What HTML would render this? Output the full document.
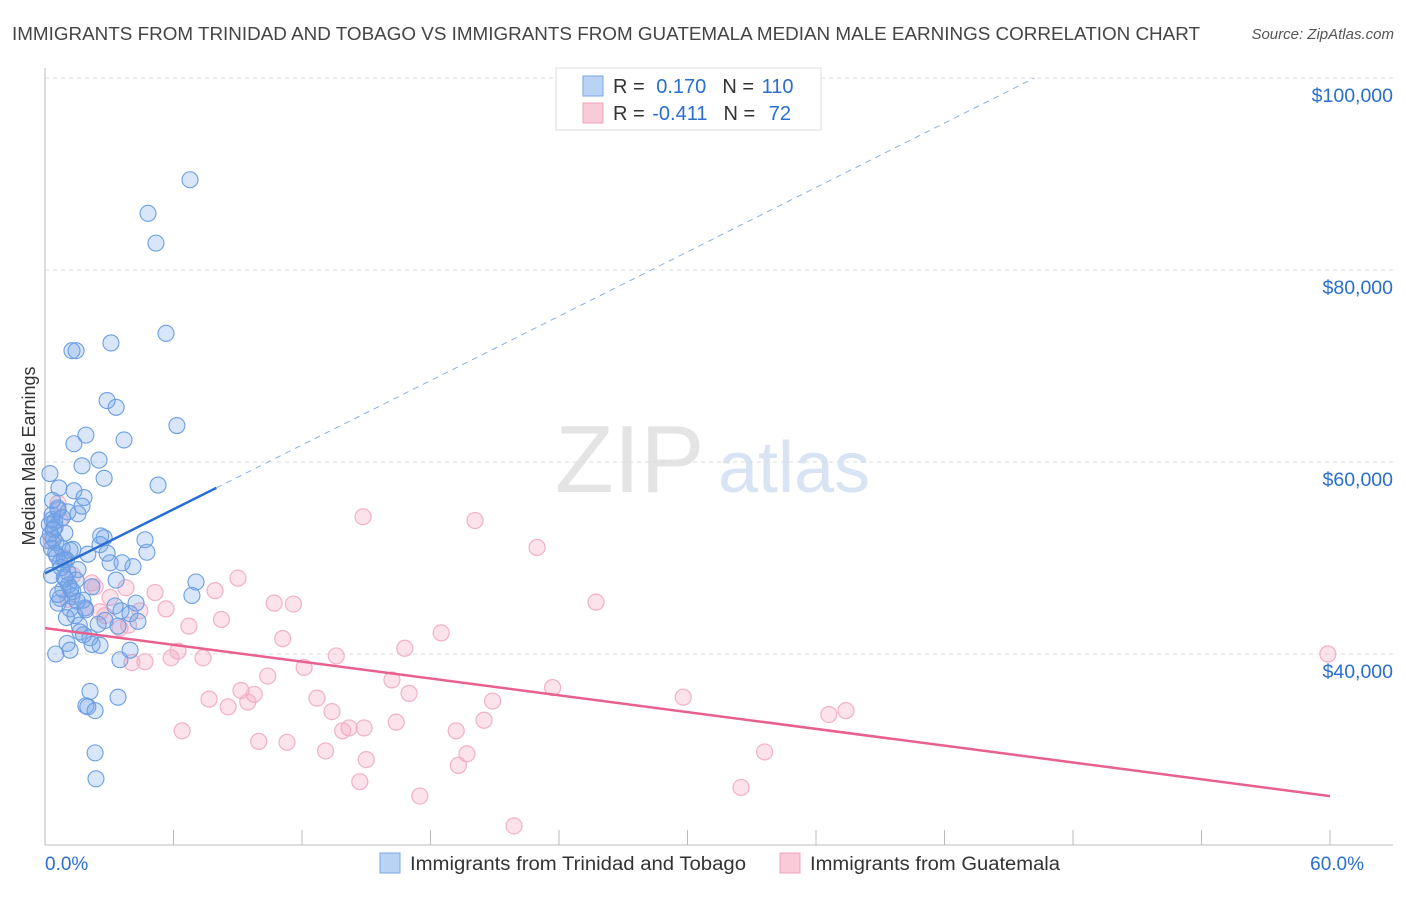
<!DOCTYPE html>
<html><head><meta charset="utf-8"><style>
body{margin:0;background:#fff;font-family:"Liberation Sans",sans-serif;}
svg text{font-family:"Liberation Sans",sans-serif;}
</style></head><body>
<svg id="c" width="1406" height="892" xmlns="http://www.w3.org/2000/svg">
<text x="12" y="40" font-size="18" fill="#444" textLength="1188" lengthAdjust="spacingAndGlyphs">IMMIGRANTS FROM TRINIDAD AND TOBAGO VS IMMIGRANTS FROM GUATEMALA MEDIAN MALE EARNINGS CORRELATION CHART</text>
<text x="1394" y="39" font-size="15" fill="#555" font-style="italic" text-anchor="end">Source: ZipAtlas.com</text>
<text x="35" y="456" font-size="18" fill="#333" transform="rotate(-90 35 456)" text-anchor="middle">Median Male Earnings</text>
<text x="555" y="492" font-size="96" fill="#e4e4e4" font-family="Liberation Serif">ZIP</text>
<text x="718" y="492" font-size="72" fill="#d8e4f4">atlas</text>
<g id="grid"></g><g id="pts"></g><g id="lines"></g>
<g>
<rect x="556" y="68" width="265" height="62" fill="#fff" stroke="#ddd"/>
<rect x="583" y="76" width="20" height="20" fill="#b9d3f5" stroke="#7aa6e6"/>
<rect x="583" y="103" width="20" height="20" fill="#f9cbd9" stroke="#f0a0bc"/>
<text x="613" y="93" font-size="20" fill="#333">R = <tspan fill="#2a6fd0" dx="6">0.170</tspan><tspan dx="16" fill="#333">N = </tspan><tspan fill="#2a6fd0" dx="2">110</tspan></text>
<text x="613" y="120" font-size="20" fill="#333">R = <tspan fill="#2a6fd0" dx="2">-0.411</tspan><tspan dx="16" fill="#333">N = </tspan><tspan fill="#2a6fd0" dx="8">72</tspan></text>
</g>
<rect x="380" y="853" width="20" height="20" fill="#b9d3f5" stroke="#7aa6e6"/>
<text x="410" y="870" font-size="19" fill="#333" textLength="336" lengthAdjust="spacingAndGlyphs">Immigrants from Trinidad and Tobago</text>
<rect x="780" y="853" width="20" height="20" fill="#f9cbd9" stroke="#f0a0bc"/>
<text x="810" y="870" font-size="19" fill="#333" textLength="250" lengthAdjust="spacingAndGlyphs">Immigrants from Guatemala</text>
</svg>
<script>
const yTicks=[40000,60000,80000,100000];
const yTickLabels=["$40,000","$60,000","$80,000","$100,000"];
const xTicks=[0,6,12,18,24,30,36,42,48,54,60];
const xEndLabels=["0.0%","60.0%"];
const blueX=[6.77,4.81,5.18,5.65,3.08,1.26,1.45,2.90,3.32,6.16,3.69,1.91,1.35,2.52,1.73,0.23,2.76,5.28,0.65,1.35,1.82,1.73,0.61,0.33,1.07,1.54,0.33,0.47,0.93,2.76,4.67,2.57,0.51,0.8,1.17,2.0,4.76,1.0,3.04,4.11,3.6,1.54,1.07,3.32,1.45,7.05,2.19,0.84,6.86,1.26,1.77,0.61,4.25,3.27,1.87,3.55,3.97,1.17,2.80,2.48,4.34,3.41,1.63,2.1,1.03,2.57,1.17,3.97,3.5,2.1,3.41,1.91,2.0,2.34,2.34,2.38,0.2,0.4,0.3,0.5,0.7,0.9,0.25,0.45,0.6,0.35,0.8,1.1,1.3,1.5,0.15,0.55,0.75,0.95,1.2,1.4,1.6,1.8,2.2,0.5,0.3,0.9,1.3,0.7,2.6,1.0,0.4,1.9,2.9,0.6];
const blueY=[89400,85900,82800,73400,72400,71600,71600,66400,65700,63800,62300,62800,61900,60200,59600,58800,58300,57600,57300,57000,56300,55400,55000,54500,54800,54600,54000,53200,52600,52100,51900,51400,51600,51000,50800,50400,50600,49800,49500,49100,49500,48800,48500,47700,47700,47500,47000,46700,46100,46000,45600,45300,45300,45000,44800,44500,44200,44700,43500,43100,43400,42900,42300,41700,41100,40900,40400,40400,39400,36100,35500,34600,34500,34100,29700,27000,53500,52000,51000,50500,49500,48000,52500,53800,55200,56000,54200,47200,46500,45500,51800,50200,49000,47800,46800,44000,43000,42000,41000,40000,48200,49800,50900,45800,52300,43800,53000,44600,50500,46200];
const pinkX=[14.85,20.08,22.98,25.73,59.9,0.61,0.7,0.3,9.01,7.94,5.14,3.78,2.19,10.7,11.6,5.65,8.24,6.72,18.5,11.1,16.8,6.21,7.38,13.6,5.89,4.67,4.06,12.1,10.4,16.2,23.7,9.15,9.77,17.0,29.8,7.66,12.7,9.47,20.9,8.55,37.4,36.6,13.4,20.5,16.4,14.9,14.2,13.9,19.2,6.4,9.98,11.3,13.1,19.7,33.6,15.0,19.3,14.7,32.5,17.5,21.9,2.57,3.04,1.07,1.87,3.5,4.43,2.34,1.3,2.8,3.9,0.9];
const pinkY=[54300,53900,51100,45400,40000,55700,54000,51800,47900,46600,46400,46900,47400,45300,45200,44700,43600,42900,42200,41600,40600,40300,39600,39800,39600,39200,39100,38600,37700,37300,36500,36200,35800,35900,35500,35300,35400,35000,35100,34500,34100,33700,34000,33100,32900,32300,32300,32000,32000,32000,30900,30800,29900,29600,29800,29000,28400,26700,26100,25200,22100,44400,45900,45700,44800,42700,44500,47000,48200,44000,43000,50000];
const blueTrend=[[0,48400],[8.0,57300],[46.2,100000]];
const pinkTrend=[[0,42700],[60,25200]];
const X=v=>45+v/60*1285, Y=v=>654-(v-40000)*192/20000;
const NS="http://www.w3.org/2000/svg";
function mk(tag,at,parent){const e=document.createElementNS(NS,tag);for(const k in at)e.setAttribute(k,at[k]);document.getElementById(parent).appendChild(e);return e;}
yTicks.forEach((t,i)=>{
 const g=mk('line',{x1:45,x2:1393,y1:Y(t),y2:Y(t),stroke:'#ddd','stroke-dasharray':'4 4'},'grid');
 
 
 const l=mk('text',{x:1393,y:Y(t)+24,'font-size':19.5,fill:'#2a6fd0','text-anchor':'end'},'grid');l.textContent=yTickLabels[i];
 
 
});
const ax=mk('line',{x1:45,x2:45,y1:68,y2:845,stroke:'#bbb'},'grid');


const bx=mk('line',{x1:45,x2:1393,y1:845,y2:845,stroke:'#bbb'},'grid');


xTicks.forEach(t=>{const k=mk('line',{x1:X(t),x2:X(t),y1:830,y2:845,stroke:'#bbb'},'grid');
 
 });
[[0,'start'],[60,'end']].forEach((p,i)=>{const t=mk('text',{x:X(p[0])+(i?34:0),y:870,'font-size':19,fill:'#2a6fd0','text-anchor':p[1]},'grid');t.textContent=xEndLabels[i];
 
 });
pinkX.forEach((x,i)=>{const c=mk('circle',{cx:X(x),cy:Y(pinkY[i]),r:8,fill:'rgba(244,160,188,0.3)',stroke:'#f2b0c6','stroke-width':1.2},'pts');
 
 });
blueX.forEach((x,i)=>{const c=mk('circle',{cx:X(x),cy:Y(blueY[i]),r:8,fill:'rgba(120,165,235,0.28)',stroke:'#6a9ee2','stroke-width':1.1},'pts');
 
 });
const b1=mk('line',{x1:X(blueTrend[0][0]),y1:Y(blueTrend[0][1]),x2:X(blueTrend[1][0]),y2:Y(blueTrend[1][1]),stroke:'#2a6fd0','stroke-width':2.5},'lines');


const b2=mk('line',{x1:X(blueTrend[1][0]),y1:Y(blueTrend[1][1]),x2:X(blueTrend[2][0]),y2:Y(blueTrend[2][1]),stroke:'#8ab0e0','stroke-width':1,'stroke-dasharray':'6 5'},'lines');


const p1=mk('line',{x1:X(pinkTrend[0][0]),y1:Y(pinkTrend[0][1]),x2:X(pinkTrend[1][0]),y2:Y(pinkTrend[1][1]),stroke:'#e8608f','stroke-width':2.5},'lines');


</script>
</body></html>
